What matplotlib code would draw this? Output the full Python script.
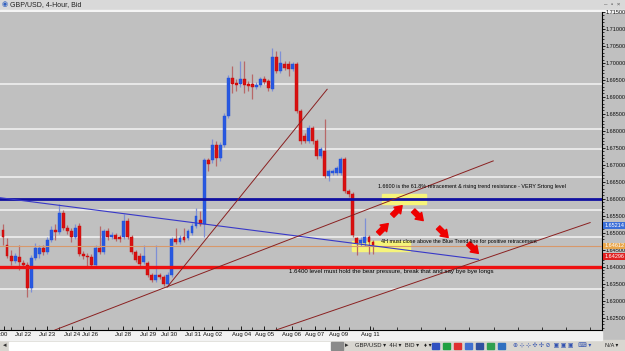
import numpy as np
import matplotlib.pyplot as plt
from matplotlib.patches import Rectangle
from matplotlib.transforms import blended_transform_factory

plt.rcParams['font.family'] = ['Liberation Sans', 'DejaVu Sans']
narrow = ['Liberation Sans Narrow', 'Liberation Sans', 'DejaVu Sans']

# GBP/USD 4-hour candles, 21 Jul - 11 Aug 2009
opens = [1.65092, 1.64624, 1.64301, 1.64155, 1.64272, 1.64096, 1.64038, 1.63364, 1.64243, 1.64360,
         1.64536, 1.64418, 1.64770, 1.65092, 1.65034, 1.65590, 1.65151, 1.65063, 1.64858, 1.65210,
         1.64360, 1.64301, 1.64272, 1.64038, 1.64536, 1.64418, 1.65063, 1.64858, 1.64946, 1.64858,
         1.64858, 1.65356, 1.64858, 1.64418, 1.64301, 1.64125, 1.64096, 1.63745, 1.63598, 1.63745,
         1.63686, 1.63481, 1.63745, 1.64799, 1.64711, 1.64858, 1.64829, 1.65004, 1.65210, 1.65385,
         1.65268, 1.67143, 1.67143, 1.67583, 1.67202, 1.67583, 1.68433, 1.69546, 1.69399, 1.69370,
         1.69517, 1.69370, 1.69370, 1.69282, 1.69341, 1.69517, 1.69458, 1.69224, 1.70161, 1.69751,
         1.69956, 1.69956, 1.69810, 1.69956, 1.68579, 1.67847, 1.67700, 1.68081, 1.67700, 1.67261,
         1.67407, 1.66675, 1.66762, 1.66762, 1.66762, 1.67173, 1.66235, 1.66147, 1.64829, 1.64682,
         1.64682, 1.64858, 1.64711]
highs = [1.65268, 1.64829, 1.64477, 1.64389, 1.64624, 1.64184, 1.64125, 1.64331, 1.64682, 1.64624,
         1.64624, 1.64858, 1.65210, 1.65268, 1.65854, 1.65678, 1.65239, 1.65151, 1.65268, 1.65297,
         1.64448, 1.64389, 1.64360, 1.64624, 1.65210, 1.65122, 1.65151, 1.65034, 1.65004, 1.64917,
         1.65561, 1.65444, 1.64917, 1.64477, 1.64389, 1.64624, 1.64155, 1.63803, 1.64624, 1.63803,
         1.63745, 1.63832, 1.64858, 1.65151, 1.64917, 1.65151, 1.65122, 1.65297, 1.65737, 1.65649,
         1.67202, 1.67202, 1.67759, 1.67700, 1.67671, 1.68520, 1.69634, 1.69898, 1.69517, 1.70044,
         1.70044, 1.69458, 1.69663, 1.69429, 1.69575, 1.69605, 1.69517, 1.70425, 1.70337, 1.70337,
         1.70044, 1.70044, 1.70015, 1.70015, 1.68638, 1.67934, 1.68169, 1.68140, 1.67759, 1.67524,
         1.68345, 1.66880, 1.66880, 1.66968, 1.67231, 1.67231, 1.66294, 1.66206, 1.64887, 1.64887,
         1.65444, 1.64917, 1.64770]
lows = [1.64624, 1.64243, 1.64038, 1.64096, 1.63891, 1.63950, 1.63100, 1.63246, 1.64184, 1.64243,
        1.64331, 1.64360, 1.64711, 1.64770, 1.64975, 1.65092, 1.64975, 1.64711, 1.64799, 1.64301,
        1.64213, 1.63979, 1.63950, 1.63979, 1.64360, 1.64360, 1.64770, 1.64799, 1.64741, 1.64711,
        1.64799, 1.64799, 1.64360, 1.64125, 1.64008, 1.64067, 1.63686, 1.63539, 1.63539, 1.63627,
        1.63422, 1.63422, 1.63686, 1.64653, 1.64653, 1.64711, 1.64770, 1.64946, 1.65151, 1.65210,
        1.64887, 1.66821, 1.67055, 1.66968, 1.67114, 1.67524, 1.68374, 1.69106, 1.69165, 1.69282,
        1.69106, 1.69165, 1.68931, 1.69224, 1.69282, 1.69370, 1.69165, 1.69165, 1.69692, 1.69692,
        1.69780, 1.69605, 1.69751, 1.68520, 1.67612, 1.67641, 1.67641, 1.67612, 1.67173, 1.67202,
        1.66616, 1.66528, 1.66704, 1.66704, 1.66704, 1.66176, 1.66059, 1.64858, 1.64331, 1.64594,
        1.64594, 1.64360, 1.64360]
closes = [1.64858, 1.64301, 1.64155, 1.64301, 1.64125, 1.64038, 1.63364, 1.64243, 1.64536, 1.64536,
          1.64418, 1.64770, 1.65092, 1.65034, 1.65590, 1.65151, 1.65063, 1.64858, 1.65151, 1.64360,
          1.64301, 1.64272, 1.64038, 1.64536, 1.64418, 1.65063, 1.64858, 1.64946, 1.64799, 1.64799,
          1.65356, 1.64858, 1.64418, 1.64184, 1.64067, 1.64301, 1.63745, 1.63598, 1.63745, 1.63686,
          1.63481, 1.63745, 1.64799, 1.64711, 1.64829, 1.64770, 1.65063, 1.65210, 1.65503, 1.65268,
          1.67143, 1.67026, 1.67583, 1.67202, 1.67583, 1.68433, 1.69546, 1.69370, 1.69341, 1.69517,
          1.69341, 1.69312, 1.69282, 1.69341, 1.69517, 1.69429, 1.69253, 1.70161, 1.69751, 1.69985,
          1.69839, 1.69810, 1.69956, 1.68579, 1.67700, 1.67700, 1.68081, 1.67700, 1.67261, 1.67466,
          1.66675, 1.66821, 1.66821, 1.66909, 1.67173, 1.66235, 1.66147, 1.64917, 1.64682, 1.64770,
          1.64858, 1.64711, 1.64624]

date_pos = [0.2, 5, 11, 17.25, 21.75, 29.75, 36, 41.25, 47.3, 52, 59.25, 65, 71.75, 77.5, 83.5, 91.25]
date_labels = [':00', 'Jul 22', 'Jul 23', 'Jul 24', 'Jul 26', 'Jul 28', 'Jul 29', 'Jul 30', 'Jul 31',
               'Aug 02', 'Aug 04', 'Aug 05', 'Aug 06', 'Aug 07', 'Aug 09', 'Aug 11']

white_levels = [1.69370, 1.68052, 1.67466, 1.66645, 1.65678, 1.64858, 1.63334]
blue_level = 1.66
red_level = 1.64
bid_level = 1.64612
price_tags = [(1.65214, '#3a6fd8'), (1.64612, '#e8a54a'), (1.64296, '#e02020')]

# drawn objects: (bar, price) anchors
blue_trend = [(-0.75, 1.66030), (118.2, 1.64213)]
maroon_lines = [[(40.8, 1.63393), (80.6, 1.69224)],
                [(12.9, 1.62133), (121.9, 1.67114)],
                [(67.9, 1.62133), (146.0, 1.65297)]]
yellow_boxes = [(94.3, 105.2, 1.65854, 1.66147), (86.8, 101.2, 1.64448, 1.64741)]
arrows = [((93.3, 1.64975), (95.8, 1.65268)), ((96.8, 1.65503), (99.25, 1.65795)),
          ((102.0, 1.65649), (104.5, 1.65356)), ((108.2, 1.65151), (110.7, 1.64858)),
          ((115.7, 1.64682), (118.2, 1.64389))]
notes = [(93.3, 1.66352, '1.6600 is the 61.8% retracement & rising trend resistance - VERY Srtong level', 3.85),
         (94.0, 1.64741, '4H must close above the Blue Trend line for positive retracement', 3.85),
         (71.1, 1.63862, '1.6400 level must hold the bear pressure, break that and say bye bye longs', 4.45)]

W, H = 625, 351
AX_R = 602
fig = plt.figure(figsize=(W / 100, H / 100), dpi=100)
fig.patch.set_facecolor('#c0c0c0')

# window chrome
fig.add_artist(Rectangle((0, 1 - 10 / H), 1, 10 / H, transform=fig.transFigure, color='#d9d9d9', zorder=0))
fig.add_artist(Rectangle((0, 1 - 12 / H), 1, 2 / H, transform=fig.transFigure, color='#f4f4f4', zorder=0))
fig.text(10 / W, 1 - 5 / H, 'GBP/USD, 4-Hour, Bid', fontsize=5, va='center', color='#202020')
fig.text(2 / W, 1 - 5 / H, '◉', fontsize=5, va='center', color='#3060c0')
fig.text(604 / W, 1 - 5 / H, '–  ▫  ×', fontsize=4.5, va='center', color='#505050')
fig.add_artist(Rectangle((0, 0), 1, 11 / H, transform=fig.transFigure, color='#d8d6d0', zorder=0))
fig.add_artist(Rectangle((0, 11 / H), AX_R / W, 10 / H, transform=fig.transFigure, color='#f2f2f2', zorder=0))
fig.add_artist(Rectangle((9 / W, 1.5 / H), 322 / W, 8 / H, transform=fig.transFigure, color='#ffffff', zorder=1))
fig.add_artist(Rectangle((331 / W, 1.5 / H), 12 / W, 8 / H, transform=fig.transFigure, color='#8a8a8a', zorder=1))
fig.text(3 / W, 5.5 / H, '◂', fontsize=5, va='center', color='#303030')
fig.text(345 / W, 5.5 / H, '▸', fontsize=5, va='center', color='#303030')
fig.text(355 / W, 5.5 / H, 'GBP/USD ▾  4H ▾  BID ▾   ♦ ▾', fontsize=4.2, va='center', color='#202020')
for k, c in enumerate(['#3050c0', '#20a040', '#e03030', '#4070d0', '#3050a0', '#30a050', '#3070c0']):
    fig.add_artist(Rectangle(((432 + 11 * k) / W, 2.5 / H), 7 / W, 6 / H, transform=fig.transFigure,
                             color=c, zorder=2))
fig.text(513 / W, 5.5 / H, '⊕ ⊹ ⊹ ✣ ✣ ⊘  ▣ ▣ ▣   ⌨ ▾', fontsize=4.2, va='center', color='#3050b0')
fig.text(605 / W, 5.5 / H, 'N/A ▾', fontsize=4.0, va='center', color='#202020', family=narrow)

ax = fig.add_axes([0, 21 / H, AX_R / W, 318 / H])
ax.set_facecolor('#c0c0c0')
ax.set_xlim(-0.75, 148.95)
ax.set_ylim(1.62133, 1.71450)

o = np.array(opens)
c = np.array(closes)
hi = np.array(highs)
lo = np.array(lows)
idx = np.arange(len(o))
up = c >= o

for lvl in white_levels:
    ax.axhline(lvl, color='#f4f4f4', lw=1.1, zorder=1)

for x0, x1, y0, y1 in yellow_boxes:
    ax.add_patch(Rectangle((x0, y0), x1 - x0, y1 - y0, color='#f6f47a', zorder=2))

ax.vlines(idx[up], lo[up], hi[up], color='#7d8fd6', lw=0.9, zorder=3)
ax.vlines(idx[~up], lo[~up], hi[~up], color='#b86868', lw=0.9, zorder=3)
body_lo = np.minimum(o, c)
body_h = np.maximum(np.abs(c - o), 0.00012)
ax.bar(idx[up], body_h[up], bottom=body_lo[up], width=0.72, color='#2858e0',
       edgecolor='#2050d8', lw=0.3, zorder=4)
ax.bar(idx[~up], body_h[~up], bottom=body_lo[~up], width=0.72, color='#d81010',
       edgecolor='#c80808', lw=0.3, zorder=4)

ax.axhline(blue_level, color='#1010a0', lw=2.0, zorder=5)
ax.axhline(red_level, color='#ee1010', lw=2.4, zorder=5)
ax.axhline(bid_level, color='#d8986a', lw=0.8, zorder=5)

(bx0, by0), (bx1, by1) = blue_trend
ax.plot([bx0, bx1], [by0, by1], color='#3838c8', lw=0.8, zorder=6)
for (x0, y0), (x1, y1) in maroon_lines:
    ax.plot([x0, x1], [y0, y1], color='#8a2020', lw=0.7, zorder=6)

for tail, tip in arrows:
    ax.annotate('', xy=tip, xytext=tail, zorder=7,
                arrowprops=dict(arrowstyle='simple,head_length=0.55,head_width=0.75,tail_width=0.38',
                                color='#ee0000', mutation_scale=9, shrinkA=0, shrinkB=0))

for x, y, s, fs in notes:
    ax.text(x, y, s, fontsize=fs, va='center', ha='left', color='black', zorder=8)

# axes styling
for side in ['top', 'left']:
    ax.spines[side].set_visible(False)
ax.spines['right'].set_color('black')
ax.spines['bottom'].set_color('black')
ax.spines['right'].set_linewidth(0.8)
ax.spines['bottom'].set_linewidth(0.8)

ax.yaxis.tick_right()
yt = np.arange(1.625, 1.7151, 0.005)
ax.set_yticks(yt)
ax.set_yticklabels([f'{v:.5f}' for v in yt], family=narrow)
ax.set_yticks(np.arange(1.622, 1.7145, 0.001), minor=True)
ax.tick_params(axis='y', which='major', direction='out', length=2, width=0.6, pad=0.5,
               labelsize=4.0, labelcolor='#101010')
ax.tick_params(axis='y', which='minor', direction='out', length=1.1, width=0.5)

ax.set_xticks(date_pos)
ax.set_xticklabels(date_labels)
ax.set_xticks(np.arange(2, 149, 6), minor=True)
ax.tick_params(axis='x', which='major', direction='in', length=3, width=0.6, pad=1.5,
               labelsize=4.3, labelcolor='#101010')
ax.tick_params(axis='x', which='minor', direction='in', length=2, width=0.5)

tr = blended_transform_factory(ax.transAxes, ax.transData)
for val, col in price_tags:
    ax.text(1.0035, val, f'{val:.5f}', transform=tr, fontsize=4.0, color='white', va='center',
            ha='left', zorder=9, clip_on=False, family=narrow,
            bbox=dict(boxstyle='square,pad=0.12', fc=col, ec='none'))

fig.savefig('out.png', dpi=100, facecolor=fig.get_facecolor())
